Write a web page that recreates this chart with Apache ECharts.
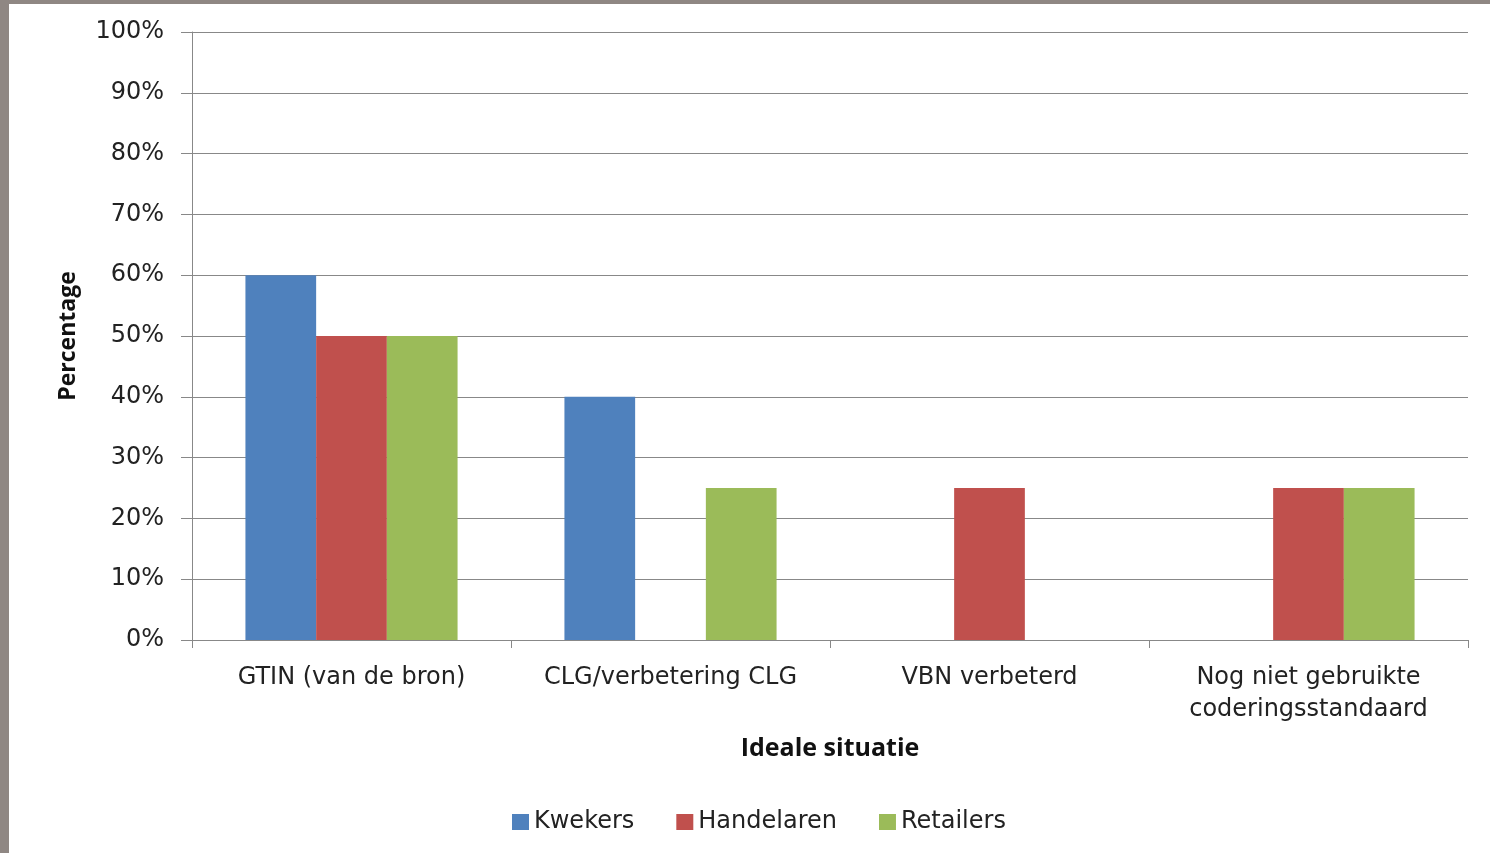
<!DOCTYPE html>
<html><head><meta charset="utf-8">
<script src="https://cdn.jsdelivr.net/npm/echarts@6/dist/echarts.min.js"></script>
<style>
html,body{margin:0;padding:0;background:#fff;}
#c{position:absolute;left:0;top:0;width:1490px;height:853px;}
#bl{position:absolute;left:0;top:0;width:9px;height:853px;background:#8f8783;}
#bt{position:absolute;left:0;top:0;width:1490px;height:4px;background:#8f8783;}
</style></head>
<body>
<div id="c"></div><div id="bl"></div><div id="bt"></div>
<script>
const categories = ['GTIN (van de bron)', 'CLG/verbetering CLG', 'VBN verbeterd', 'Nog niet gebruikte\ncoderingsstandaard'];
const kwekers = [60, 40, 0, 0];
const handelaren = [50, 0, 25, 25];
const retailers = [50, 25, 0, 25];
const seriesNames = ['Kwekers', 'Handelaren', 'Retailers'];
const yTicks = [0, 10, 20, 30, 40, 50, 60, 70, 80, 90, 100];

const font = 'DejaVu Sans';
const titleFont = 'Open Sans';
const chart = echarts.init(document.getElementById('c'), null, {renderer: 'canvas'});
const axisGrey = '#888888';
chart.setOption({
  animation: false,
  backgroundColor: 'transparent',
  textStyle: {fontFamily: font},
  grid: {left: 192, right: 22, top: 32, bottom: 213, containLabel: false},
  legend: {
    data: seriesNames, bottom: 14, left: 507, itemWidth: 17, itemHeight: 16, itemGap: 42,
    icon: 'rect',
    textStyle: {fontFamily: font, fontSize: 24, color: '#222'}
  },
  xAxis: {
    type: 'category', data: categories,
    name: 'Ideale situatie', nameLocation: 'middle', nameGap: 96,
    nameTextStyle: {fontFamily: titleFont, fontSize: 25, fontWeight: 'bold', color: '#111'},
    axisLine: {lineStyle: {color: axisGrey, width: 1}},
    axisTick: {show: true, length: 8, lineStyle: {color: axisGrey}},
    axisLabel: {interval: 0, fontFamily: font, fontSize: 24, color: '#222', margin: 22, lineHeight: 32}
  },
  yAxis: {
    type: 'value', min: 0, max: 100, interval: 10,
    name: 'Percentage', nameLocation: 'middle', nameGap: 112, nameRotate: 90,
    nameTextStyle: {fontFamily: titleFont, fontSize: 23, fontWeight: 'bold', color: '#111'},
    axisLine: {show: true, lineStyle: {color: axisGrey, width: 1}},
    axisTick: {show: true, length: 11, lineStyle: {color: axisGrey}},
    splitLine: {lineStyle: {color: axisGrey, width: 1}},
    axisLabel: {fontFamily: font, fontSize: 24, color: '#222', margin: 28,
      formatter: v => yTicks.includes(v) ? v + '%' : ''}
  },
  series: [
    {name: seriesNames[0], type: 'bar', data: kwekers, itemStyle: {color: '#4F81BD'}, barGap: '0%', barCategoryGap: '33.5%'},
    {name: seriesNames[1], type: 'bar', data: handelaren, itemStyle: {color: '#C0504D'}, barGap: '0%', barCategoryGap: '33.5%'},
    {name: seriesNames[2], type: 'bar', data: retailers, itemStyle: {color: '#9BBB59'}, barGap: '0%', barCategoryGap: '33.5%'}
  ]
});
</script>
</body></html>
